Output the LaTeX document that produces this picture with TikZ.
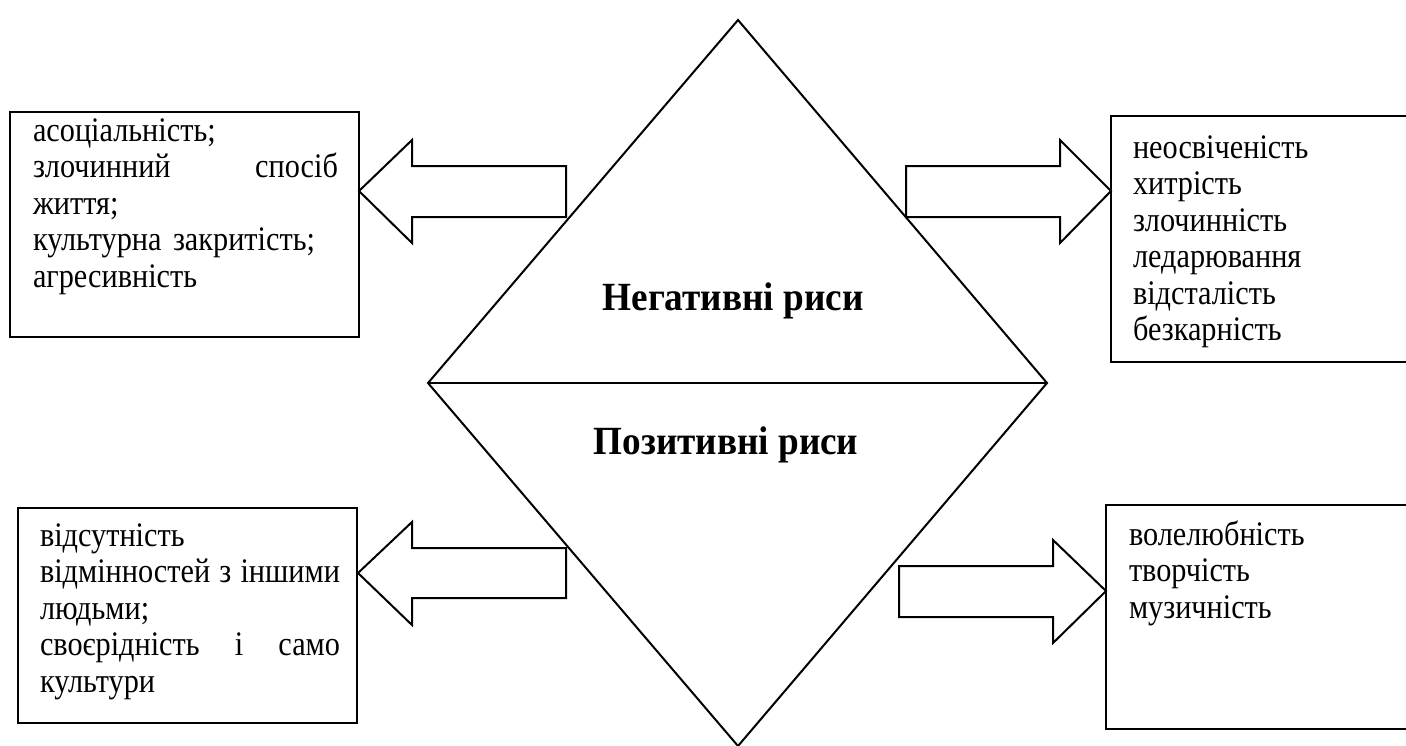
\documentclass[tikz,border=0pt]{standalone}
\usepackage{fontspec}
\setmainfont{Liberation Serif}
\newfontfamily\bodyfont[FakeStretch=0.88]{Liberation Serif}
\newfontfamily\headfont[FakeStretch=0.93]{Liberation Serif}
\usetikzlibrary{fit}
\begin{document}
\begin{tikzpicture}[x=0.5pt,y=-0.5pt,line width=1pt,
  frame/.style={draw,line width=1pt,inner sep=0pt},
  itemtext/.style={anchor=base west,inner sep=0pt,align=left,
    font=\bodyfont\fontsize{17.2}{18.25}\selectfont},
  heading/.style={anchor=base,inner sep=0pt,
    font=\headfont\bfseries\fontsize{20}{24}\selectfont},
  blockarrow/.style={draw,line width=1pt,line join=miter}]
\clip (0,0) rectangle (1406,745);

% central rhombus split in two halves
\coordinate (top) at (738,20);
\coordinate (left) at (428,383);
\coordinate (right) at (1047,383);
\coordinate (bottom) at (738,746);
\draw (top) -- (right) -- (bottom) -- (left) -- cycle;
\draw (left) -- (right);
\node[heading] (neg) at (733,310) {Негативні риси};
\node[heading] (pos) at (726,454) {Позитивні риси};

% frames
\node[frame,fit={(10,112)(359,337)}] (tlbox) {};
\node[frame,fit={(1111,116)(1420,362)}] (trbox) {};
\node[frame,fit={(18,508)(357,723)}] (blbox) {};
\node[frame,fit={(1106,505)(1420,729)}] (brbox) {};

% texts inside the frames
\node[itemtext,text width=152.5pt] (tltext) at (32,141) {асоціальність;\\
  злочинний\hfill спосіб\\
  життя;\\
  культурна закритість;\\
  агресивність};
\node[itemtext,text width=130pt] (trtext) at (1132,158) {неосвіченість\\
  хитрість\\
  злочинність\\
  ледарювання\\
  відсталість\\
  безкарність};
\node[itemtext,text width=150pt] (bltext) at (39,546) {відсутність\\
  відмінностей\hspace{0.15em plus 1fill}з\hspace{0.15em plus 1fill}іншими\\
  людьми;\\
  своєрідність\hfill і\hfill само\\
  культури};
\node[itemtext,text width=130pt] (brtext) at (1128,545) {волелюбність\\
  творчість\\
  музичність};

% block arrows from the rhombus to the frames
\draw[blockarrow] (359,191) -- (412,140) -- (412,166) -- (566,166)
  -- (566,217) -- (412,217) -- (412,243) -- cycle;
\draw[blockarrow] (1111,191) -- (1060,140) -- (1060,166) -- (906,166)
  -- (906,217) -- (1060,217) -- (1060,243) -- cycle;
\draw[blockarrow] (358,573) -- (412,522) -- (412,548) -- (566,548)
  -- (566,598) -- (412,598) -- (412,625) -- cycle;
\draw[blockarrow] (1106,591) -- (1053,540) -- (1053,566) -- (899,566)
  -- (899,617) -- (1053,617) -- (1053,643) -- cycle;
\end{tikzpicture}
\end{document}
